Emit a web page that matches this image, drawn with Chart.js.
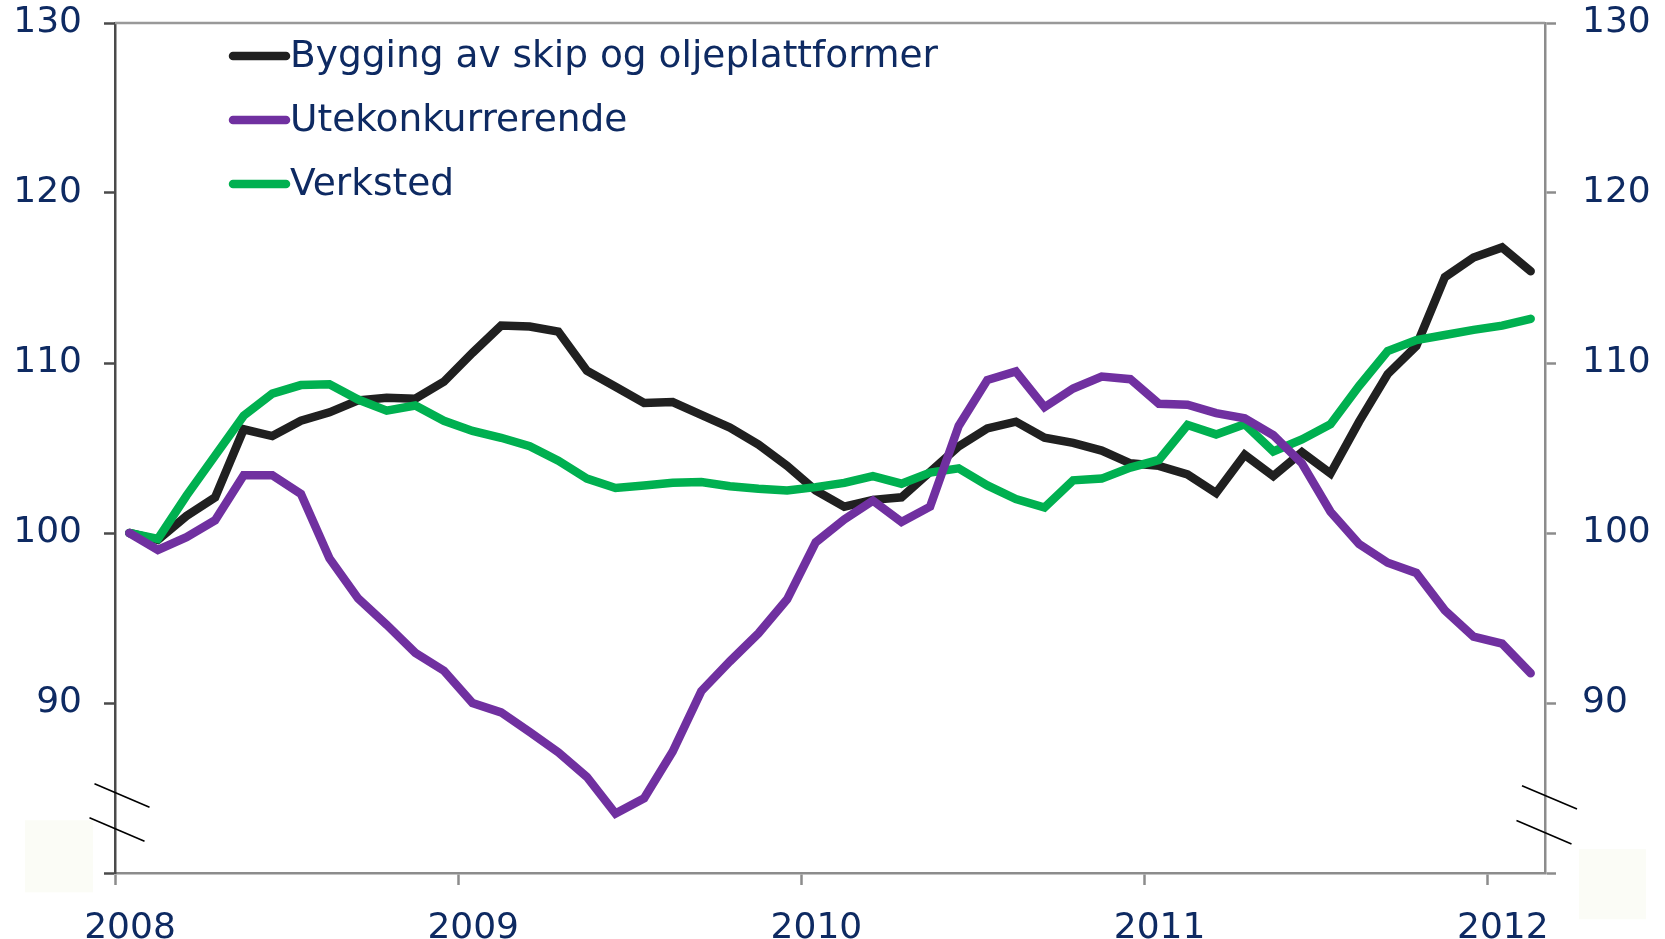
<!DOCTYPE html>
<html><head><meta charset="utf-8">
<script src="https://cdn.jsdelivr.net/npm/chart.js@4.4.0/dist/chart.umd.min.js"></script>
<style>html,body{margin:0;padding:0;background:#fff}#wrap{width:1665px;height:939px;position:relative}</style>
</head><body><div id="wrap"><canvas id="c" width="1665" height="939"></canvas></div>
<script>
// ---------- data ----------
const months = [
 '2008-01','2008-02','2008-03','2008-04','2008-05','2008-06','2008-07','2008-08','2008-09','2008-10','2008-11','2008-12',
 '2009-01','2009-02','2009-03','2009-04','2009-05','2009-06','2009-07','2009-08','2009-09','2009-10','2009-11','2009-12',
 '2010-01','2010-02','2010-03','2010-04','2010-05','2010-06','2010-07','2010-08','2010-09','2010-10','2010-11','2010-12',
 '2011-01','2011-02','2011-03','2011-04','2011-05','2011-06','2011-07','2011-08','2011-09','2011-10','2011-11','2011-12',
 '2012-01','2012-02'
];
const seriesNames = ['Bygging av skip og oljeplattformer', 'Utekonkurrerende', 'Verksted'];
const bygging = [100, 99.6, 101.0, 102.1, 106.1, 105.7, 106.6, 107.1, 107.8, 107.95, 107.9, 108.9,
 110.6, 112.2, 112.15, 111.85, 109.55, 108.6, 107.65, 107.7, 106.95, 106.2, 105.2, 103.95,
 102.5, 101.55, 101.95, 102.1, 103.6, 105.1, 106.15, 106.55, 105.6, 105.3, 104.85, 104.1,
 103.95, 103.45, 102.35, 104.6, 103.35, 104.75, 103.5, 106.55, 109.35, 111.0, 115.05, 116.2,
 116.8, 115.4];
const utekonkurrerende = [100, 99.0, 99.75, 100.75, 103.4, 103.4, 102.3, 98.5, 96.15, 94.6, 92.95, 91.9,
 90.0, 89.45, 88.3, 87.1, 85.65, 83.5, 84.4, 87.15, 90.7, 92.45, 94.1, 96.1,
 99.45, 100.8, 101.9, 100.65, 101.55, 106.3, 109.0, 109.5, 107.4, 108.5, 109.2, 109.05,
 107.6, 107.55, 107.05, 106.75, 105.75, 104.1, 101.25, 99.35, 98.25, 97.65, 95.45, 93.9,
 93.5, 91.75];
const verksted = [100, 99.65, 102.2, 104.55, 106.9, 108.2, 108.7, 108.75, 107.85, 107.2, 107.5, 106.6,
 106.0, 105.6, 105.1, 104.25, 103.2, 102.65, 102.8, 102.95, 103.0, 102.75, 102.6, 102.5,
 102.7, 102.95, 103.35, 102.9, 103.55, 103.8, 102.8, 102.0, 101.5, 103.1, 103.2, 103.85,
 104.3, 106.35, 105.8, 106.4, 104.8, 105.5, 106.4, 108.65, 110.7, 111.35, 111.65, 111.95,
 112.2, 112.6];
const yearLabels = ['2008', '2009', '2010', '2011', '2012'];
const yTickValues = [80, 90, 100, 110, 120, 130];

// ---------- helpers ----------
const START_YEAR = 2008;
function monthPos(m) { // months since Jan 2008, plotted mid-month
  const [y, mo] = m.split('-').map(Number);
  return (y - START_YEAR) * 12 + (mo - 1) + 0.5;
}
const yearTickPos = yearLabels.map(y => (Number(y) - START_YEAR) * 12);
function pts(values) { return values.map((v, i) => ({ x: monthPos(months[i]), y: v })); }

const FONT = '"DejaVu Sans", Verdana, sans-serif';
const TXT = '#0e2a62';
const colors = ['#202020', '#7030a0', '#00b050'];

const decor = {
  id: 'decor',
  afterDraw(chart) {
    const { ctx, chartArea: ca, scales } = chart;
    const ys = scales.y;
    ctx.save();
    // top frame line
    ctx.strokeStyle = '#999999'; ctx.lineWidth = 2.5;
    ctx.beginPath(); ctx.moveTo(ca.left, ca.top); ctx.lineTo(ca.right, ca.top); ctx.stroke();
    // faint boxes
    ctx.fillStyle = '#fbfcf6';
    ctx.fillRect(ca.left - 90, ys.getPixelForValue(83.1), 68, 72);
    ctx.fillRect(ca.right + 34, ys.getPixelForValue(81.4), 67, 70);
    // axis break marks
    ctx.strokeStyle = '#000'; ctx.lineWidth = 1.6;
    const brk = (x, v) => {
      const y = ys.getPixelForValue(v);
      ctx.beginPath(); ctx.moveTo(x - 27.5, y - 11.7); ctx.lineTo(x + 27.5, y + 11.7); ctx.stroke();
    };
    brk(ca.left + 7, 84.56); brk(ca.left + 2, 82.56);
    brk(ca.right + 4.5, 84.45); brk(ca.right - 1, 82.4);
    // legend
    ctx.font = '37.5px ' + FONT;
    ctx.textBaseline = 'middle';
    chart.data.datasets.forEach((ds, i) => {
      const y = ca.top + 33 + i * 64;
      ctx.strokeStyle = ds.borderColor; ctx.lineWidth = 8.5; ctx.lineCap = 'round';
      ctx.beginPath(); ctx.moveTo(ca.left + 118, y); ctx.lineTo(ca.left + 171, y); ctx.stroke();
      ctx.fillStyle = TXT;
      ctx.fillText(ds.label, ca.left + 175, y + 1);
    });
    ctx.restore();
  }
};

const yTicks = (scale) => { scale.ticks = yTickValues.map(v => ({ value: v })); };
const yLabel = (v) => (v === 80 ? '' : String(v));
const noPad = (s) => { s.paddingTop = 0; s.paddingBottom = 0; s.paddingLeft = 0; s.paddingRight = 0; };

new Chart(document.getElementById('c'), {
  type: 'line',
  data: {
    datasets: [
      { label: seriesNames[0], data: pts(bygging), borderColor: colors[0], order: 2 },
      { label: seriesNames[1], data: pts(utekonkurrerende), borderColor: colors[1], order: 0 },
      { label: seriesNames[2], data: pts(verksted), borderColor: colors[2], order: 1 }
    ]
  },
  options: {
    responsive: false,
    animation: false,
    devicePixelRatio: 1,
    layout: { padding: { top: 23, left: 0, right: 0, bottom: 0 } },
    elements: {
      line: { borderWidth: 8.5, tension: 0, borderCapStyle: 'round', borderJoinStyle: 'miter', fill: false },
      point: { radius: 0, hoverRadius: 0 }
    },
    plugins: { legend: { display: false }, tooltip: { enabled: false } },
    scales: {
      x: {
        type: 'linear', min: 0, max: 50,
        afterBuildTicks: (s) => { s.ticks = yearTickPos.map(v => ({ value: v })); },
        afterFit: (s) => { s.height = 66; noPad(s); },
        ticks: { callback: (v) => yearLabels[yearTickPos.indexOf(v)], color: TXT, font: { family: FONT, size: 36 }, padding: 22, labelOffset: 15, maxRotation: 0, autoSkip: false },
        grid: { drawOnChartArea: false, tickLength: 12, tickColor: '#8c8c8c', tickWidth: 2.5 },
        border: { color: '#8c8c8c', width: 2.5 }
      },
      y: {
        type: 'linear', position: 'left', min: 80, max: 130,
        afterBuildTicks: yTicks,
        afterFit: (s) => { s.width = 115; noPad(s); },
        ticks: { callback: yLabel, color: TXT, font: { family: FONT, size: 36 }, padding: 22 },
        grid: { drawOnChartArea: false, tickLength: 11, tickColor: '#4a4a4a', tickWidth: 2.5 },
        border: { color: '#4a4a4a', width: 2.5 }
      },
      y2: {
        type: 'linear', position: 'right', min: 80, max: 130,
        afterBuildTicks: yTicks,
        afterFit: (s) => { s.width = 120; noPad(s); },
        ticks: { callback: yLabel, color: TXT, font: { family: FONT, size: 36 }, padding: 26 },
        grid: { drawOnChartArea: false, tickLength: 11, tickColor: '#8c8c8c', tickWidth: 2.5 },
        border: { color: '#8c8c8c', width: 2.5 }
      }
    }
  },
  plugins: [decor]
});
</script>
</body></html>
